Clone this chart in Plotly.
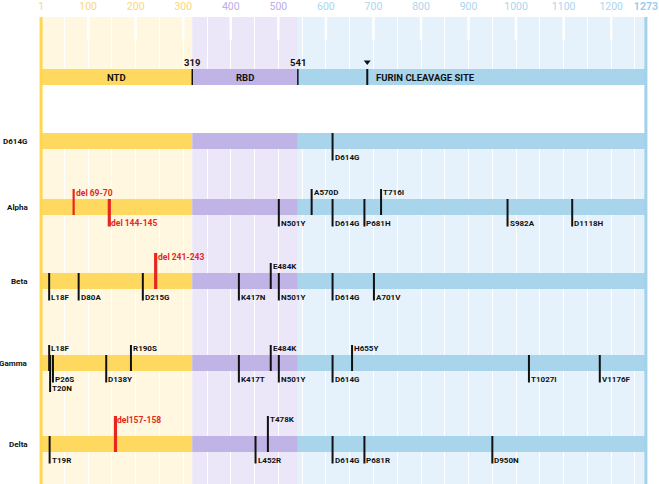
import plotly.graph_objects as go

# ---------------- data ----------------
PROTEIN_LENGTH = 1273
domain_names = ["NTD", "RBD", "FURIN CLEAVAGE SITE"]
domain_start = [1, 319, 541]
domain_end = [319, 541, 1273]
domain_boundaries = [319, 541]
furin_site = 687
tick_vals = [1, 100, 200, 300, 400, 500, 600, 700, 800, 900, 1000, 1100, 1200, 1273]

variants = ["D614G", "Alpha", "Beta", "Gamma", "Delta"]

d614g_mut = ["D614G"]
d614g_pos = [614]
d614g_side = ["down"]

alpha_mut = ["del 69-70", "del 144-145", "N501Y", "A570D", "D614G", "P681H", "T716I", "S982A", "D1118H"]
alpha_pos = [69.5, 144.5, 501, 570, 614, 681, 716, 982, 1118]
alpha_side = ["up", "down", "down", "up", "down", "down", "up", "down", "down"]

beta_mut = ["L18F", "D80A", "D215G", "del 241-243", "K417N", "E484K", "N501Y", "D614G", "A701V"]
beta_pos = [18, 80, 215, 242, 417, 484, 501, 614, 701]
beta_side = ["down", "down", "down", "up", "down", "up", "down", "down", "down"]

gamma_mut = ["L18F", "T20N", "P26S", "D138Y", "R190S", "K417T", "E484K", "N501Y", "D614G", "H655Y", "T1027I", "V1176F"]
gamma_pos = [18, 20, 26, 138, 190, 417, 484, 501, 614, 655, 1027, 1176]
gamma_side = ["up", "down", "down", "down", "up", "down", "up", "down", "down", "up", "down", "down"]

delta_mut = ["T19R", "del157-158", "L452R", "T478K", "D614G", "P681R", "D950N"]
delta_pos = [19, 157.5, 452, 478, 614, 681, 950]
delta_side = ["down", "up", "down", "up", "down", "down", "down"]

variant_data = {
    "D614G": (d614g_mut, d614g_pos, d614g_side),
    "Alpha": (alpha_mut, alpha_pos, alpha_side),
    "Beta": (beta_mut, beta_pos, beta_side),
    "Gamma": (gamma_mut, gamma_pos, gamma_side),
    "Delta": (delta_mut, delta_pos, delta_side),
}

# ---------------- layout / style ----------------
W, H = 659, 484
TOP = 17
PX0, PXU = 40.6, 0.4755          # horizontal mapping of residue -> pixel
X_MIN = -PX0 / PXU
X_MAX = (W - PX0) / PXU
HEADER_Y = 77
ROW_Y = [141, 207, 281, 363, 444]
HALF = 8

COL_BAR = ["#FFD95F", "#C0B3E5", "#A8D4EC"]
COL_LIGHT = ["#FFF7E0", "#ECE7F8", "#E5F2FB"]
COL_TICK = ["#FAD77A", "#BBAEE4", "#ACD5EE"]
RED = "#E5281F"
BLACK = "#111111"
FONT = "Roboto"

long_marks = {("Beta", "del 241-243"), ("Delta", "del157-158"), ("Delta", "T478K"), ("Gamma", "T20N")}
thin_red = {"del 69-70"}

fig = go.Figure()
shapes = []
annotations = []

# background shading per domain
for s, e, c in zip(domain_start, domain_end, COL_LIGHT):
    shapes.append(dict(type="rect", xref="x", yref="y", x0=s, x1=e, y0=TOP, y1=HEADER_Y - HALF,
                       fillcolor=c, line_width=0, layer="below"))
    shapes.append(dict(type="rect", xref="x", yref="y", x0=s, x1=e, y0=ROW_Y[0] + HALF, y1=H,
                       fillcolor=c, line_width=0, layer="below"))
# white tick notches at the hundreds
for v in tick_vals[1:-1]:
    shapes.append(dict(type="line", xref="x", yref="y", x0=v, x1=v, y0=TOP, y1=40,
                       line=dict(color="white", width=2.5), layer="below"))

# domain bars (header + variant rows)
for yc in [HEADER_Y] + ROW_Y:
    for s, e, c in zip(domain_start, domain_end, COL_BAR):
        shapes.append(dict(type="rect", xref="x", yref="y", x0=s, x1=e, y0=yc - HALF, y1=yc + HALF,
                           fillcolor=c, line_width=0, layer="between"))

# left / right protein ends
shapes.append(dict(type="line", xref="x", yref="y", x0=1, x1=1, y0=TOP, y1=H,
                   line=dict(color="#FFD551", width=3), layer="between"))
shapes.append(dict(type="line", xref="x", yref="y", x0=PROTEIN_LENGTH, x1=PROTEIN_LENGTH, y0=TOP, y1=H,
                   line=dict(color="#A3D0EB", width=3), layer="between"))

# header: boundaries and furin marker
bx, by = [], []
for b in domain_boundaries:
    bx += [b, b, None]
    by += [HEADER_Y - HALF, HEADER_Y + HALF, None]
    annotations.append(dict(x=b, y=62, xref="x", yref="y", text=f"<b>{b}</b>", showarrow=False,
                            xanchor="center", yanchor="middle", font=dict(family=FONT, size=9.5, color=BLACK)))
fig.add_trace(go.Scatter(x=bx, y=by, mode="lines", line=dict(color=BLACK, width=1.5), hoverinfo="skip"))
fig.add_trace(go.Scatter(x=[furin_site, furin_site], y=[HEADER_Y - HALF, HEADER_Y + HALF], mode="lines",
                         line=dict(color=BLACK, width=2), hoverinfo="skip"))
fig.add_trace(go.Scatter(x=[furin_site], y=[62], mode="markers",
                         marker=dict(symbol="triangle-down", size=6, color=BLACK), hoverinfo="skip"))
for name, s, e in zip(domain_names[:2], domain_start[:2], domain_end[:2]):
    annotations.append(dict(x=(s + e) / 2, y=HEADER_Y, xref="x", yref="y", text=f"<b>{name}</b>", showarrow=False,
                            xanchor="center", yanchor="middle", font=dict(family=FONT, size=9.5, color=BLACK)))
annotations.append(dict(x=furin_site, y=HEADER_Y, xref="x", yref="y", text=f"<b>{domain_names[2]}</b>",
                        showarrow=False, xanchor="left", yanchor="middle", xshift=7,
                        font=dict(family=FONT, size=9.5, color=BLACK)))

# mutation marks
groups = {"black": ([], [], BLACK, 2), "red": ([], [], RED, 3.2), "redthin": ([], [], RED, 2.2)}
for vname, yc in zip(variants, ROW_Y):
    muts, poss, sides = variant_data[vname]
    top, bot = yc - HALF, yc + HALF
    annotations.append(dict(x=29 / W, y=yc, xref="paper", yref="y", text=f"<b>{vname}</b>", showarrow=False,
                            xanchor="right", yanchor="middle", borderpad=0,
                            font=dict(family=FONT, size=8, color=BLACK)))
    for m, p, sd in zip(muts, poss, sides):
        is_long = (vname, m) in long_marks
        if sd == "up":
            y0 = top - (20 if is_long else 10)
            y1 = bot
            ly = y0 + 3.5
        else:
            y0 = top
            y1 = bot + (21 if is_long else 11.5)
            ly = y1 - 3.5
        is_del = m.startswith("del")
        key = ("redthin" if m in thin_red else "red") if is_del else "black"
        groups[key][0].extend([p, p, None])
        groups[key][1].extend([y0, y1, None])
        annotations.append(dict(x=p, y=ly, xref="x", yref="y", text=f"<b>{m}</b>", showarrow=False,
                                xanchor="left", yanchor="middle", xshift=1, borderpad=0,
                                font=dict(family=FONT, size=8.5 if is_del else 8, color=RED if is_del else BLACK)))
for key, (gx, gy, col, wd) in groups.items():
    fig.add_trace(go.Scatter(x=gx, y=gy, mode="lines", line=dict(color=col, width=wd), hoverinfo="skip"))

# colored tick labels
def tick_color(v):
    for s, e, c in zip(domain_start, domain_end, COL_TICK):
        if v <= e:
            return c
    return COL_TICK[-1]

tick_text = []
for v in tick_vals:
    t = f"<b>{v}</b>" if v == PROTEIN_LENGTH else str(v)
    tick_text.append(f'<span style="color:{tick_color(v) if v != PROTEIN_LENGTH else "#9ECDEA"}">{t}</span>')

fig.update_layout(
    width=W, height=H,
    margin=dict(l=0, r=0, t=TOP, b=0),
    paper_bgcolor="white", plot_bgcolor="white",
    showlegend=False,
    shapes=shapes,
    annotations=annotations,
    xaxis=dict(range=[X_MIN, X_MAX], side="top", tickmode="array", tickvals=tick_vals, ticktext=tick_text,
               tickfont=dict(family=FONT, size=10.5), ticks="outside", ticklen=2, tickcolor="rgba(0,0,0,0)",
               showline=False, zeroline=False, showgrid=True, gridcolor="white", gridwidth=1,
               minor=dict(tickmode="linear", tick0=0, dtick=50, showgrid=True, gridcolor="white", gridwidth=1),
               fixedrange=True),
    yaxis=dict(range=[H, TOP], showgrid=False, zeroline=False, showticklabels=False, showline=False,
               fixedrange=True),
)

fig.write_html("out.html", config={"displayModeBar": False},
               post_script="document.body.style.margin='0';document.body.style.overflow='hidden';")
